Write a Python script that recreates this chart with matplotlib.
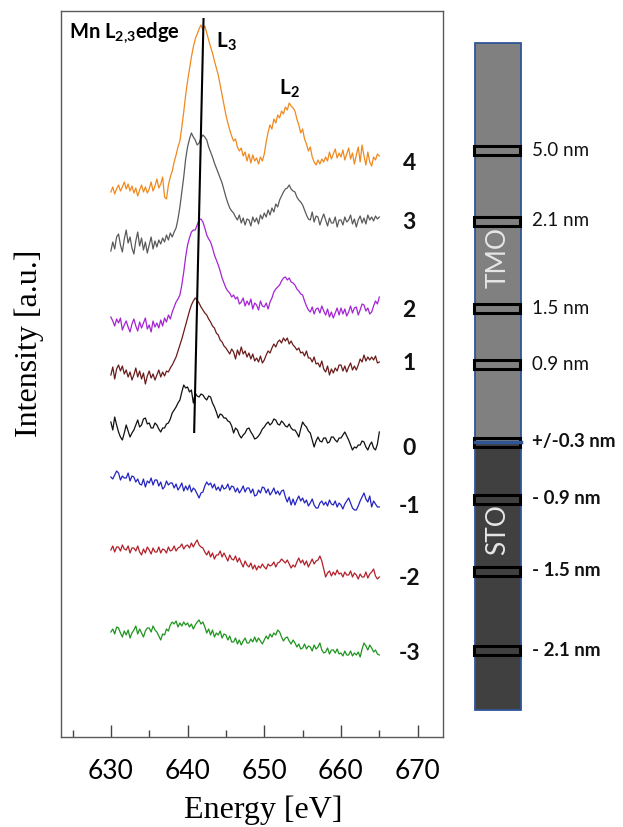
import numpy as np
import matplotlib
matplotlib.use("Agg")
import matplotlib.pyplot as plt
from matplotlib.patches import Rectangle

plt.rcParams['mathtext.fontset'] = 'custom'
plt.rcParams['mathtext.rm'] = 'Lato'
plt.rcParams['mathtext.bf'] = 'Lato:bold'

# ---------------- data (intensity, a.u., offsets included) ----------------
E_START, E_STEP = 630.0, 0.25

spec_4 = [545, 550, 543, 548, 552, 546, 550, 555, 548, 553, 546, 551, 544, 549, 541, 547,
          552, 545, 550, 544, 548, 555, 546, 551, 558, 549, 553, 560, 540, 538, 552, 560,
          566, 575, 582, 590, 596, 610, 625, 642, 656, 668, 680, 690, 698, 703, 708, 712,
          707, 711, 704, 697, 690, 684, 676, 669, 662, 652, 642, 632, 622, 614, 607, 601,
          596, 598, 590, 586, 589, 581, 585, 576, 583, 574, 582, 576, 579, 573, 580, 576,
          583, 595, 605, 612, 608, 618, 614, 622, 619, 626, 623, 630, 627, 634, 631, 629,
          626, 618, 612, 604, 608, 598, 593, 586, 590, 580, 575, 572, 577, 573, 578, 575,
          580, 576, 585, 578, 583, 588, 579, 584, 580, 587, 577, 583, 589, 578, 584, 573,
          582, 590, 575, 592, 581, 572, 585, 575, 571, 580, 577, 583, 581]
spec_3 = [486, 495, 488, 500, 503, 492, 485, 498, 507, 494, 500, 489, 483, 496, 505, 491,
          499, 487, 495, 484, 492, 500, 488, 496, 490, 497, 493, 499, 495, 502, 497, 504,
          500, 505, 509, 518, 530, 545, 560, 578, 590, 598, 604, 600, 597, 592, 594, 599,
          602, 600, 597, 590, 585, 580, 574, 569, 564, 559, 554, 547, 540, 534, 529, 526,
          524, 520, 517, 522, 514, 519, 512, 518, 517, 511, 520, 515, 519, 513, 522, 518,
          524, 520, 527, 522, 529, 525, 533, 530, 537, 541, 545, 548, 549, 552, 548, 546,
          545, 540, 537, 535, 532, 527, 522, 518, 517, 525, 515, 521, 520, 512, 518, 523,
          517, 511, 519, 514, 514, 520, 510, 517, 517, 512, 520, 515, 517, 522, 513, 518,
          510, 517, 521, 514, 519, 513, 522, 517, 520, 516, 521, 518, 520]
spec_2 = [420, 416, 411, 418, 414, 419, 407, 412, 416, 410, 405, 413, 418, 411, 406, 415,
          409, 414, 419, 408, 412, 405, 416, 410, 414, 409, 417, 411, 419, 415, 422, 418,
          425, 430, 435, 438, 442, 452, 465, 480, 492, 499, 505, 507, 507, 512, 517, 518,
          515, 509, 502, 498, 495, 489, 482, 477, 472, 466, 459, 454, 449, 446, 444, 440,
          442, 438, 440, 433, 435, 439, 431, 436, 432, 438, 428, 434, 432, 427, 436, 431,
          430, 434, 428, 435, 439, 445, 448, 450, 452, 456, 459, 460, 457, 459, 455, 454,
          452, 448, 446, 443, 442, 436, 431, 427, 425, 430, 423, 428, 429, 424, 431, 426,
          422, 428, 420, 425, 419, 424, 429, 422, 429, 423, 428, 421, 425, 431, 424, 429,
          430, 422, 427, 433, 432, 426, 429, 423, 425, 431, 436, 433, 440]
spec_1 = [362, 370, 358, 368, 372, 366, 371, 363, 367, 360, 365, 357, 362, 369, 360, 366,
          358, 364, 353, 361, 366, 359, 363, 357, 362, 367, 360, 365, 361, 366, 365, 369,
          372, 376, 380, 386, 392, 398, 405, 412, 419, 426, 432, 436, 439, 437, 434, 430,
          427, 424, 422, 418, 415, 411, 409, 404, 402, 397, 395, 391, 389, 386, 383, 388,
          385, 378, 387, 382, 390, 383, 386, 380, 384, 378, 383, 376, 379, 375, 381, 374,
          377, 382, 386, 384, 389, 393, 390, 395, 397, 394, 399, 396, 399, 393, 396, 392,
          390, 387, 389, 384, 385, 381, 386, 379, 379, 375, 380, 373, 374, 370, 376, 368,
          365, 371, 362, 368, 364, 369, 366, 372, 372, 366, 371, 365, 370, 374, 367, 371,
          367, 372, 378, 375, 382, 376, 380, 377, 380, 377, 381, 374, 375]
spec_0 = [315, 307, 320, 312, 305, 300, 297, 304, 312, 306, 300, 304, 307, 312, 317, 310,
          312, 318, 319, 313, 314, 309, 309, 314, 312, 308, 305, 309, 309, 313, 314, 318,
          324, 327, 330, 334, 337, 345, 352, 349, 350, 345, 347, 334, 344, 341, 340, 343,
          342, 339, 337, 341, 340, 334, 330, 325, 319, 323, 322, 319, 319, 316, 315, 311,
          304, 309, 307, 302, 299, 302, 304, 308, 309, 305, 302, 298, 299, 301, 304, 308,
          310, 313, 315, 312, 314, 318, 317, 313, 312, 316, 314, 311, 310, 313, 309, 307,
          307, 304, 300, 308, 315, 312, 310, 306, 304, 297, 290, 296, 300, 296, 295, 299,
          299, 294, 295, 300, 300, 297, 295, 299, 299, 302, 305, 301, 297, 292, 287, 290,
          289, 292, 292, 296, 295, 290, 287, 292, 295, 289, 287, 293, 305]
spec_m1 = [260, 258, 262, 266, 264, 257, 261, 259, 259, 264, 256, 261, 260, 255, 258, 253,
           252, 258, 250, 256, 254, 259, 252, 257, 257, 251, 255, 248, 250, 256, 252, 254,
           254, 249, 253, 247, 250, 254, 246, 251, 247, 252, 245, 249, 247, 243, 239, 244,
           245, 251, 255, 252, 254, 249, 253, 247, 250, 246, 252, 248, 249, 253, 247, 251,
           250, 245, 249, 244, 247, 251, 245, 249, 249, 244, 248, 241, 242, 247, 244, 250,
           249, 244, 248, 242, 245, 249, 243, 246, 242, 246, 247, 240, 235, 240, 232, 238,
           232, 237, 241, 236, 239, 234, 237, 231, 234, 238, 232, 229, 229, 234, 236, 232,
           235, 231, 237, 233, 232, 236, 230, 234, 232, 228, 233, 236, 239, 234, 229, 227,
           227, 231, 236, 240, 244, 238, 235, 241, 230, 236, 233, 230, 230]
spec_m2 = [187, 191, 185, 190, 190, 186, 192, 188, 187, 191, 184, 189, 189, 186, 191, 185,
           182, 188, 184, 190, 187, 183, 189, 185, 185, 190, 184, 188, 187, 184, 190, 186,
           187, 191, 186, 189, 190, 193, 188, 191, 192, 189, 194, 190, 194, 197, 192, 190,
           189, 185, 182, 186, 180, 184, 178, 182, 182, 186, 180, 184, 180, 176, 182, 178,
           177, 181, 175, 179, 174, 170, 176, 172, 170, 174, 168, 172, 167, 171, 169, 173,
           170, 168, 173, 171, 172, 175, 170, 174, 175, 178, 176, 174, 177, 173, 169, 172,
           170, 175, 179, 174, 177, 172, 176, 170, 174, 178, 173, 176, 177, 181, 176, 168,
           160, 164, 166, 161, 165, 162, 167, 163, 164, 160, 165, 162, 162, 166, 160, 164,
           162, 158, 163, 160, 160, 165, 159, 163, 165, 168, 161, 158, 160]
spec_m3 = [105, 108, 103, 110, 109, 104, 100, 106, 102, 107, 99, 104, 107, 111, 103, 108,
           104, 100, 106, 109, 109, 105, 111, 107, 105, 101, 97, 103, 102, 108, 106, 112,
           115, 113, 116, 110, 114, 111, 115, 112, 114, 110, 113, 108, 112, 115, 117, 113,
           115, 110, 104, 108, 102, 107, 100, 104, 102, 106, 99, 103, 102, 97, 101, 95,
           95, 99, 93, 97, 92, 96, 99, 94, 94, 98, 95, 100, 95, 99, 96, 93,
           97, 101, 98, 103, 100, 104, 102, 107, 105, 100, 96, 99, 100, 96, 93, 97,
           94, 90, 93, 88, 89, 93, 88, 91, 90, 86, 92, 88, 90, 94, 87, 84,
           85, 89, 83, 87, 87, 84, 88, 83, 84, 81, 86, 82, 82, 86, 81, 84,
           82, 85, 80, 88, 94, 91, 87, 92, 89, 85, 87, 83, 82]

spectrum_labels = ['4', '3', '2', '1', '0', '-1', '-2', '-3']
spectra = [spec_4, spec_3, spec_2, spec_1, spec_0, spec_m1, spec_m2, spec_m3]
colors = ['#f0891e', '#5a5a5a', '#a424d4', '#6a1c1c', '#111111', '#2424c0', '#b3202a', '#1f951f']

# L3 guide line endpoints (energy, intensity)
guide_E = [642.08, 640.86]
guide_I = [718, 305]

depth_labels = ['5.0 nm', '2.1 nm', '1.5 nm', '0.9 nm', '+/-0.3 nm', '- 0.9 nm', '- 1.5 nm', '- 2.1 nm']

# ---------------- figure ----------------
W, H = 623, 827
fig = plt.figure(figsize=(W / 100, H / 100), dpi=100)

ax = fig.add_axes([61 / W, 1 - 737 / H, (443 - 61) / W, (737 - 11) / H])
ax.set_xlim(623.5, 673.3)
ax.set_ylim(0, 726)

for vals, lab, col in zip(spectra, spectrum_labels, colors):
    e = E_START + E_STEP * np.arange(len(vals))
    ax.plot(e, vals, color=col, lw=0.9)
    ax.text(668.9, np.mean(vals[-8:]) - 4, lab, ha='center', va='center',
            fontsize=16.5, fontweight='bold', family='Lato', color='#111111')

ax.plot(guide_E, guide_I, color='black', lw=1.5)

ax.text(624.6, 704, r'Mn L$_{\mathbf{2{,}3}}$edge', ha='left', va='center',
        fontsize=14.5, fontweight='bold', family='Lato')
ax.text(645.0, 695, r'L$_{\mathbf{3}}$', ha='center', va='center',
        fontsize=15, fontweight='bold', family='Lato')
ax.text(653.3, 648, r'L$_{\mathbf{2}}$', ha='center', va='center',
        fontsize=15, fontweight='bold', family='Lato')

ax.set_xticks([630, 640, 650, 660, 670])
ax.set_xticks([625, 635, 645, 655, 665], minor=True)
ax.set_yticks([])
ax.tick_params(axis='x', which='major', direction='in', length=9, width=1,
               color='#444444', pad=16, labelsize=19)
ax.tick_params(axis='x', which='minor', direction='in', length=5, width=1, color='#444444')
for lab in ax.get_xticklabels():
    lab.set_family('Lato')
for sp in ax.spines.values():
    sp.set_color('#5a5a5a')
    sp.set_linewidth(1.0)

fig.text(263 / W, 1 - 810 / H, 'Energy [eV]', ha='center', va='center',
         fontsize=23, family='Liberation Serif')
fig.text(29 / W, 1 - 343 / H, 'Intensity [a.u.]', ha='center', va='center',
         rotation=90, fontsize=23, family='Liberation Serif')

# ---------------- layer schematic (pixel coordinates) ----------------
sx = fig.add_axes([0, 0, 1, 1])
sx.set_xlim(0, W)
sx.set_ylim(H, 0)
sx.axis('off')
sx.patch.set_alpha(0)

col_x0, col_x1 = 475, 521
col_top, col_mid, col_bot = 43, 442, 710
sx.add_patch(Rectangle((col_x0, col_top), col_x1 - col_x0, col_mid - col_top,
                       facecolor='#808080', edgecolor='none'))
sx.add_patch(Rectangle((col_x0, col_mid), col_x1 - col_x0, col_bot - col_mid,
                       facecolor='#404040', edgecolor='none'))
sx.add_patch(Rectangle((col_x0, col_top), col_x1 - col_x0, col_bot - col_top,
                       facecolor='none', edgecolor='#2f5597', lw=1.3))
sx.plot([col_x0, col_x1], [col_mid, col_mid], color='#2f5597', lw=2.5)

marker_y = [150, 221, 308, 364, 442, 499, 571, 650]
for i, (yy, txt) in enumerate(zip(marker_y, depth_labels)):
    sx.add_patch(Rectangle((474, yy - 4.5), 46, 9, facecolor='none',
                           edgecolor='black', lw=2.2))
    sx.text(532, yy, txt, ha='left', va='center', fontsize=13.5, family='Lato',
            fontweight='bold' if i >= 4 else 'normal', color='#111111')

sx.text(498, 258, 'TMO', rotation=90, ha='center', va='center', fontsize=19,
        family='Lato', color='#e6e6e6')
sx.text(498, 530, 'STO', rotation=90, ha='center', va='center', fontsize=19,
        family='Lato', color='#e6e6e6')

fig.savefig('out.png', dpi=100)
